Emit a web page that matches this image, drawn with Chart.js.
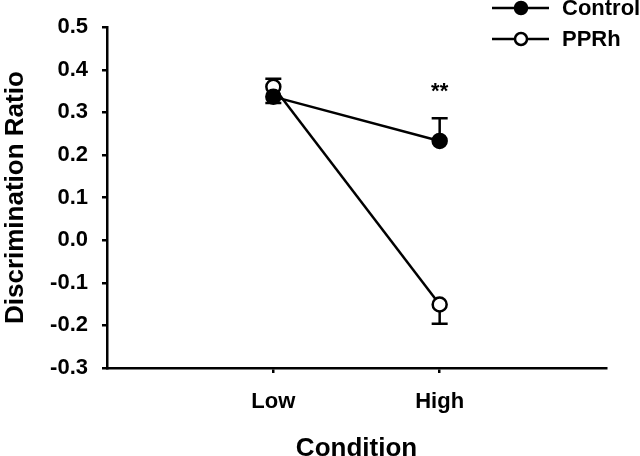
<!DOCTYPE html>
<html>
<head>
<meta charset="utf-8">
<script src="https://cdn.jsdelivr.net/npm/chart.js@4.4.0/dist/chart.umd.min.js"></script>
<style>
  html, body { margin: 0; padding: 0; background: #fff; }
</style>
</head>
<body>
<canvas id="myChart" width="640" height="456"></canvas>
<script>
// data
const categories = ['Low', 'High'];
const controlMeans = [0.337, 0.233];
const controlErrUp = [0, 0.053];
const controlErrDown = [0.015, 0];
const pprhMeans = [0.360, -0.151];
const pprhErrUp = [0.019, 0];
const pprhErrDown = [0, 0.045];
const sigLabels = ['', '**'];
const yMin = -0.3, yMax = 0.5, yStep = 0.1;

const FONT = "'Liberation Sans', Arial, sans-serif";
const LW = 2.5;

// categories sit at 1, 2 on a 0..3 linear axis
const toPoints = vals => vals.map((v, i) => ({ x: i + 1, y: v }));

const errorBars = {
    id: 'errorBars',
    beforeDatasetsDraw(chart) {
        const ctx = chart.ctx;
        const xs = chart.scales.x, ys = chart.scales.y;
        const sets = [
            [controlMeans, controlErrUp, controlErrDown],
            [pprhMeans, pprhErrUp, pprhErrDown]
        ];
        ctx.save();
        ctx.strokeStyle = '#000';
        ctx.lineWidth = LW;
        sets.forEach(([means, up, down]) => {
            means.forEach((m, i) => {
                const px = xs.getPixelForValue(i + 1);
                const py = ys.getPixelForValue(m);
                [m + up[i], m - down[i]].forEach(v => {
                    if (v === m) return;
                    const ey = ys.getPixelForValue(v);
                    ctx.beginPath();
                    ctx.moveTo(px, py);
                    ctx.lineTo(px, ey);
                    ctx.moveTo(px - 8, ey);
                    ctx.lineTo(px + 8, ey);
                    ctx.stroke();
                });
            });
        });
        ctx.restore();
    },
    afterDatasetsDraw(chart) {
        // significance stars above the upper error bar
        const ctx = chart.ctx;
        const xs = chart.scales.x, ys = chart.scales.y;
        ctx.save();
        ctx.fillStyle = '#000';
        ctx.font = 'bold 22px ' + FONT;
        ctx.textAlign = 'center';
        ctx.textBaseline = 'alphabetic';
        sigLabels.forEach((s, i) => {
            if (!s) return;
            const top = Math.max(controlMeans[i] + controlErrUp[i], pprhMeans[i] + pprhErrUp[i]);
            ctx.fillText(s, xs.getPixelForValue(i + 1), ys.getPixelForValue(top) - 20);
        });
        ctx.restore();
    }
};

const lineLegend = {
    id: 'lineLegend',
    afterDraw(chart) {
        const ctx = chart.ctx;
        ctx.save();
        ctx.lineWidth = LW;
        ctx.strokeStyle = '#000';
        ctx.font = 'bold 22px ' + FONT;
        ctx.textBaseline = 'middle';
        ctx.textAlign = 'left';
        chart.data.datasets.forEach((ds, i) => {
            const y = 8 + i * 31;
            ctx.beginPath();
            ctx.moveTo(492, y);
            ctx.lineTo(549, y);
            ctx.stroke();
            ctx.beginPath();
            ctx.arc(521, y, 6, 0, Math.PI * 2);
            ctx.fillStyle = ds.pointBackgroundColor;
            ctx.fill();
            ctx.stroke();
            ctx.fillStyle = '#000';
            ctx.fillText(ds.label, 562, y + 1);
        });
        ctx.restore();
    }
};

const ctx = document.getElementById('myChart').getContext('2d');
new Chart(ctx, {
    type: 'line',
    data: {
        datasets: [
            {
                label: 'Control',
                data: toPoints(controlMeans),
                borderColor: '#000',
                borderWidth: LW,
                pointRadius: 7,
                pointBorderWidth: LW,
                pointBorderColor: '#000',
                pointBackgroundColor: '#000'
            },
            {
                label: 'PPRh',
                data: toPoints(pprhMeans),
                borderColor: '#000',
                borderWidth: LW,
                pointRadius: 7,
                pointBorderWidth: LW,
                pointBorderColor: '#000',
                pointBackgroundColor: '#fff'
            }
        ]
    },
    options: {
        responsive: false,
        animation: false,
        devicePixelRatio: 1,
        layout: { padding: { left: 0, right: 34, top: 21, bottom: 0 } },
        plugins: { legend: { display: false }, tooltip: { enabled: false } },
        scales: {
            x: {
                type: 'linear',
                min: 0,
                max: categories.length + 1,
                afterFit: s => { s.height = 88; },
                afterBuildTicks: s => {
                    s.ticks = [0, 1, 2, 3].map(v => ({ value: v }));
                },
                ticks: {
                    autoSkip: false,
                    maxRotation: 0,
                    padding: 16,
                    color: '#000',
                    font: { family: FONT, size: 22, weight: 'bold' },
                    callback: v => categories[v - 1] || ''
                },
                grid: {
                    drawOnChartArea: false,
                    tickLength: 5,
                    lineWidth: LW,
                    color: c => (c.tick && c.tick.value >= 1 && c.tick.value <= categories.length) ? '#000' : 'rgba(0,0,0,0)'
                },
                border: { color: '#000', width: LW },
                title: {
                    display: true,
                    text: 'Condition',
                    color: '#000',
                    font: { family: FONT, size: 26, weight: 'bold', lineHeight: 0.55 },
                    padding: { top: 0, bottom: 0 }
                }
            },
            y: {
                min: yMin,
                max: yMax,
                afterFit: s => { s.width = 107; },
                ticks: {
                    stepSize: yStep,
                    padding: 14,
                    color: '#000',
                    font: { family: FONT, size: 22, weight: 'bold' },
                    callback: v => Math.abs(v) < 1e-9 ? '0.0' : v.toFixed(1)
                },
                grid: {
                    drawOnChartArea: false,
                    tickLength: 5,
                    lineWidth: LW,
                    color: '#000'
                },
                border: { color: '#000', width: LW },
                title: {
                    display: true,
                    text: 'Discrimination Ratio',
                    color: '#000',
                    font: { family: FONT, size: 26, weight: 'bold', lineHeight: 1.2 },
                    padding: { top: 0, bottom: 0 }
                }
            }
        }
    },
    plugins: [errorBars, lineLegend]
});
</script>
</body>
</html>
